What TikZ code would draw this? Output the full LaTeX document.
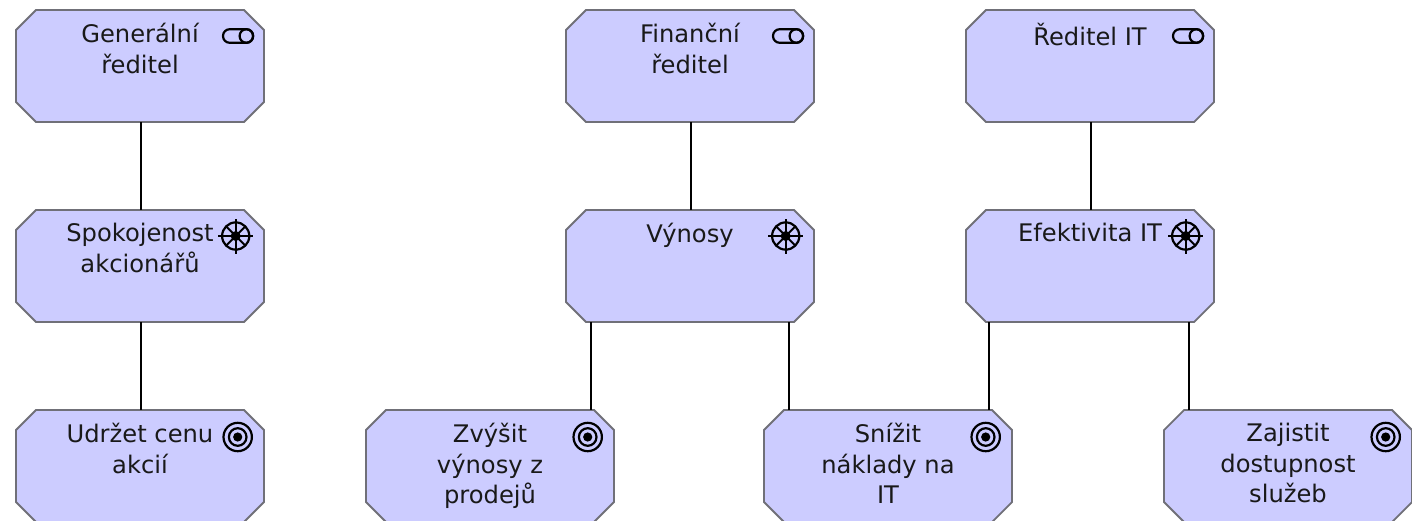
\documentclass[tikz,border=0pt]{standalone}
\usepackage{fontspec}
\setmainfont{DejaVu Sans}
\definecolor{boxfill}{HTML}{CCCCFF}
\definecolor{boxline}{HTML}{707078}
\newcommand{\elembox}[3]{%
  \node[elem] (#1) at (#2,#3) {};
  \draw[octo] ([xshift=20pt]#1.north west) -- ([xshift=-20pt]#1.north east)
    -- ([yshift=-20pt]#1.north east) -- ([yshift=20pt]#1.south east)
    -- ([xshift=-20pt]#1.south east) -- ([xshift=20pt]#1.south west)
    -- ([yshift=20pt]#1.south west) -- ([yshift=-20pt]#1.north west) -- cycle;
}
\tikzset{
  x=1pt,y=-1pt,
  elem/.style={rectangle,minimum width=248pt,minimum height=112pt,inner sep=0pt,outer sep=0pt},
  octo/.style={fill=boxfill,draw=boxline,line width=1.8pt,line join=miter},
  lbl/.style={anchor=north,align=center,font=\fontsize{24.2}{30.5}\selectfont,inner sep=0pt,text=black!90},
  link/.style={draw=black,line width=1.6pt},
  icon/.style={draw=black,line width=2.2pt,fill=none},
  actor/.pic={
    \draw[icon,rounded corners=6.7pt] (-15,-6.8) rectangle (15,6.8);
    \draw[icon] (8.4,0) circle[radius=6.8pt];
  },
  driver/.pic={
    \draw[icon] (0,0) circle[radius=13.6pt];
    \foreach \a in {0,90,180,270}{\draw[black,line width=2pt] (0,0) -- (\a:17.5pt);}
    \foreach \a in {45,135,225,315}{\draw[black,line width=2pt] (0,0) -- (\a:13.6pt);}
    \fill[black] (0,0) circle[radius=5pt];
  },
  goal/.pic={
    \draw[icon] (0,0) circle[radius=14.2pt];
    \draw[icon] (0,0) circle[radius=8.8pt];
    \fill[black] (0,0) circle[radius=4.6pt];
  }
}
\begin{document}
\begin{tikzpicture}
\useasboundingbox (0,0) rectangle (1412,520);
\clip (0,0) rectangle (1412,520);
% boxes
\elembox{ceo}{140}{66}
\elembox{cfo}{690}{66}
\elembox{cio}{1090}{66}
\elembox{sat}{140}{266}
\elembox{rev}{690}{266}
\elembox{eff}{1090}{266}
\elembox{keep}{140}{466}
\elembox{sales}{490}{466}
\elembox{cost}{888}{466}
\elembox{serv}{1288}{466}
% connectors
\draw[link] ([xshift=1pt]ceo.south) -- ([xshift=1pt]sat.north);
\draw[link] ([xshift=1pt]sat.south) -- ([xshift=1pt]keep.north);
\draw[link] ([xshift=1pt]cfo.south) -- ([xshift=1pt]rev.north);
\draw[link] ([xshift=1pt]cio.south) -- ([xshift=1pt]eff.north);
\draw[link] ([xshift=-99pt]rev.south) -- ([xshift=101pt]sales.north);
\draw[link] ([xshift=99pt]rev.south) -- ([xshift=-99pt]cost.north);
\draw[link] ([xshift=-101pt]eff.south) -- ([xshift=101pt]cost.north);
\draw[link] ([xshift=99pt]eff.south) -- ([xshift=-99pt]serv.north);
% labels
\node[lbl] (t1) at ([yshift=-13pt]ceo.north) {Generální\\ředitel};
\node[lbl] (t2) at ([yshift=-13pt]cfo.north) {Finanční\\ředitel};
\node[lbl] (t3) at ([yshift=-13pt]cio.north) {Ředitel IT};
\node[lbl] (t4) at ([yshift=-13pt]sat.north) {Spokojenost\\akcionářů};
\node[lbl] (t5) at ([yshift=-13pt]rev.north) {Výnosy};
\node[lbl] (t6) at ([yshift=-13pt]eff.north) {Efektivita IT};
\node[lbl] (t7) at ([yshift=-13pt]keep.north) {Udržet cenu\\akcií};
\node[lbl] (t8) at ([yshift=-13pt]sales.north) {Zvýšit\\výnosy z\\prodejů};
\node[lbl] (t9) at ([yshift=-13pt]cost.north) {Snížit\\náklady na\\IT};
\node[lbl] (t10) at ([yshift=-13pt]serv.north) {Zajistit\\dostupnost\\služeb};
% icons
\path ([xshift=98pt,yshift=-26pt]ceo.north) pic {actor};
\path ([xshift=98pt,yshift=-26pt]cfo.north) pic {actor};
\path ([xshift=98pt,yshift=-26pt]cio.north) pic {actor};
\path ([xshift=95.7pt,yshift=-26pt]sat.north) pic {driver};
\path ([xshift=95.7pt,yshift=-26pt]rev.north) pic {driver};
\path ([xshift=95.7pt,yshift=-26pt]eff.north) pic {driver};
\path ([xshift=97.7pt,yshift=-27pt]keep.north) pic {goal};
\path ([xshift=97.7pt,yshift=-27pt]sales.north) pic {goal};
\path ([xshift=97.7pt,yshift=-27pt]cost.north) pic {goal};
\path ([xshift=97.7pt,yshift=-27pt]serv.north) pic {goal};
\end{tikzpicture}
\end{document}
